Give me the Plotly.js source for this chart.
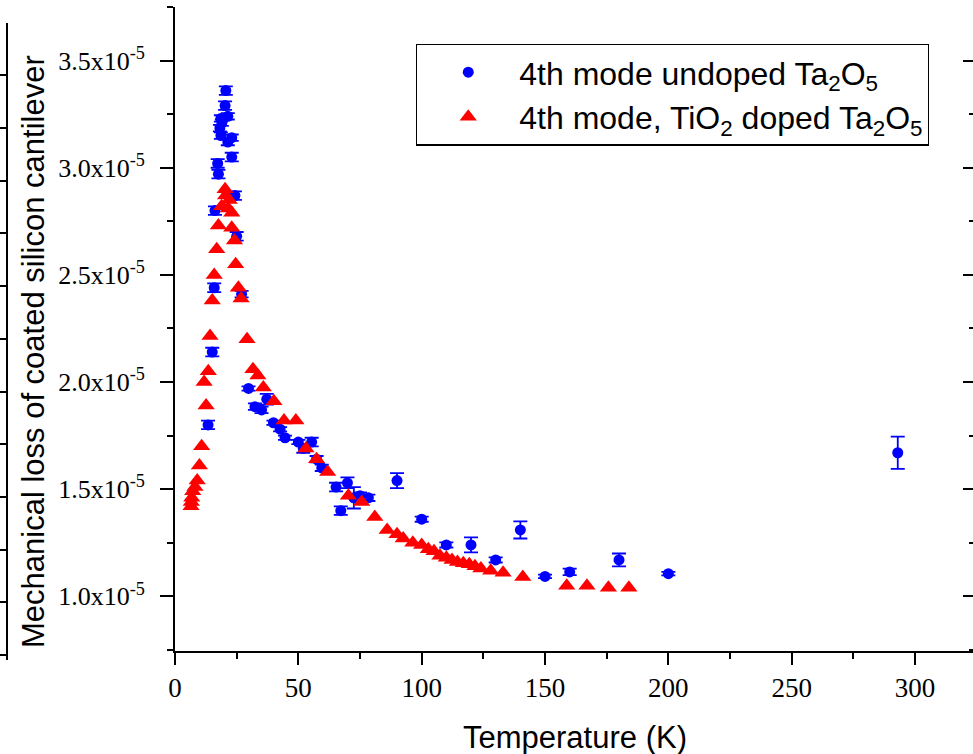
<!DOCTYPE html>
<html>
<head>
<meta charset="utf-8">
<script src="https://cdn.plot.ly/plotly-3.0.1.min.js"></script>
<style>html,body{margin:0;padding:0;background:#fff;}#chart{width:973px;height:754px;}</style>
</head>
<body>
<div id="chart"></div>
<script>
// Values of mechanical loss are in units of 1e-5
const undopedName = "4th mode undoped Ta<sub>2</sub>O<sub>5</sub>";
const undopedT = [13.4, 15.1, 15.9, 16.2, 17.3, 17.6, 18.2, 18.6, 18.6, 19.0, 20.3, 20.6, 21.4, 21.4, 23.0, 23.0, 24.3, 25.0, 27.0,
  29.8, 32.4, 35.1, 37.2, 39.9, 42.6, 44.6, 50.0, 52.0, 55.4, 57.4, 59.5, 65.3, 67.2, 69.9, 72.5, 75.0, 78.4,
  90, 100, 110, 120, 130, 140, 150, 160, 180, 200, 293];
const undopedLoss = [1.80, 2.14, 2.44, 2.80, 3.02, 2.97, 3.185, 3.15, 3.23, 3.21, 3.29, 3.36, 3.24, 3.12, 3.14, 3.05, 2.87, 2.68, 2.41,
  1.97, 1.885, 1.87, 1.92, 1.81, 1.78, 1.74, 1.72, 1.69, 1.72, 1.64, 1.60, 1.51, 1.40, 1.53, 1.46, 1.47, 1.46,
  1.54, 1.36, 1.24, 1.24, 1.17, 1.31, 1.093, 1.114, 1.17, 1.106, 1.67];
const undopedErr = [0.02, 0.02, 0.02, 0.02, 0.02, 0.02, 0.015, 0.015, 0.015, 0.015, 0.02, 0.02, 0.015, 0.015, 0.015, 0.02, 0.02, 0.02, 0.015,
  0.01, 0.015, 0.015, 0.025, 0.01, 0.01, 0.01, 0.01, 0.02, 0.02, 0.015, 0.015, 0.02, 0.02, 0.025, 0.05, 0.015, 0.015,
  0.035, 0.012, 0.012, 0.035, 0.012, 0.04, 0.008, 0.015, 0.03, 0.008, 0.075];

const dopedName = "4th mode, TiO<sub>2</sub> doped Ta<sub>2</sub>O<sub>5</sub>";
const dopedT = [6.5, 6.6, 6.8, 7.2, 8.1, 9.0, 9.9, 10.8, 11.8, 12.6, 13.5, 14.2, 15.1, 15.9, 16.9, 17.6, 18.9, 20.3, 20.5, 21.6, 22.0, 23.0, 23.0,
  24.1, 24.6, 25.7, 26.8, 29.2, 31.6, 33.6, 35.8, 40.1, 44.2, 49.0, 53.1, 57.4, 61.9, 70.3, 75.7, 81.0, 86.0,
  90.0, 92.5, 96.4, 100.0, 102.7, 105.0, 107.4, 110.0, 112.3, 114.5, 116.9, 119.3, 121.6, 124.0, 128.0, 133.0, 141.0,
  158.8, 167.0, 175.7, 184.0];
const dopedLoss = [1.42, 1.44, 1.46, 1.49, 1.51, 1.54, 1.61, 1.70, 2.00, 1.89, 2.05, 2.215, 2.38, 2.50, 2.62, 2.73, 2.82, 2.90, 2.87, 2.81, 2.85, 2.79, 2.72,
  2.66, 2.55, 2.44, 2.39, 2.20, 2.06, 2.03, 1.975, 1.91, 1.82, 1.82, 1.69, 1.64, 1.58, 1.47, 1.44, 1.37, 1.31,
  1.29, 1.27, 1.25, 1.24, 1.22, 1.21, 1.19, 1.18, 1.17, 1.16, 1.155, 1.15, 1.14, 1.13, 1.12, 1.11, 1.09,
  1.05, 1.05, 1.04, 1.04];

const yTickVals = [1.0, 1.5, 2.0, 2.5, 3.0, 3.5];
const yTickText = ["1.0x10<sup>-5</sup>", "1.5x10<sup>-5</sup>", "2.0x10<sup>-5</sup>", "2.5x10<sup>-5</sup>", "3.0x10<sup>-5</sup>", "3.5x10<sup>-5</sup>"];

const xTitle = "Temperature (K)";
const yTitle = "Mechanical loss of coated silicon cantilever";

const BLUE = "#0000ff", RED = "#ff0000";
const yRange = [0.745, 3.75];

const traces = [
  {
    type: "scatter", mode: "markers", name: undopedName,
    x: undopedT, y: undopedLoss,
    marker: {symbol: "circle", size: 11, color: BLUE},
    error_y: {type: "data", array: undopedErr, visible: true, color: BLUE, thickness: 1.8, width: 7}
  },
  {
    type: "scatter", mode: "markers", name: dopedName,
    x: dopedT, y: dopedLoss,
    marker: {symbol: "triangle-up", size: 15, color: RED}
  },
  {type: "scatter", mode: "markers", x: [], y: [], yaxis: "y2", showlegend: false, hoverinfo: "skip"},
  {type: "scatter", mode: "markers", x: [], y: [], yaxis: "y3", showlegend: false, hoverinfo: "skip"}
];

const xTickFont = {family: "Liberation Serif, Times New Roman, serif", size: 27, color: "#000"};
const yTickFont = {family: "Liberation Serif, Times New Roman, serif", size: 26, color: "#000"};
const titleFont = {family: "Liberation Sans, Arial, sans-serif", size: 31, color: "#000"};

const layout = {
  width: 973, height: 754,
  margin: {l: 0, r: 0, t: 7, b: 94, pad: 0},
  paper_bgcolor: "#fff", plot_bgcolor: "rgba(0,0,0,0)",
  showlegend: true,
  legend: {
    x: 0.4275, y: 0.944, xanchor: "left", yanchor: "top",
    bordercolor: "#000", borderwidth: 1.3, bgcolor: "#fff",
    font: {family: "Liberation Sans, Arial, sans-serif", size: 32, color: "#000"},
    itemwidth: 92, tracegroupgap: 0
  },
  xaxis: {
    domain: [175 / 973, 1], anchor: "y",
    range: [0, 323.5], tickmode: "linear", tick0: 0, dtick: 50,
    ticks: "outside", ticklen: 12, tickwidth: 2, tickcolor: "#000",
    minor: {tickmode: "linear", tick0: 0, dtick: 25, ticks: "outside", ticklen: 6, tickwidth: 2, tickcolor: "#000", showgrid: false},
    showline: true, linewidth: 2, linecolor: "#000",
    showgrid: false, zeroline: false,
    tickfont: xTickFont
  },
  yaxis: {
    domain: [9 / 653, 1], anchor: "x",
    range: yRange, tickmode: "array", tickvals: yTickVals, ticktext: yTickText,
    ticks: "outside", ticklen: 13, tickwidth: 2, tickcolor: "#000",
    minor: {tickmode: "linear", tick0: 0, dtick: 0.25, ticks: "outside", ticklen: 6, tickwidth: 2, tickcolor: "#000", showgrid: false},
    showline: true, linewidth: 2, linecolor: "#000",
    showgrid: false, zeroline: false,
    tickfont: yTickFont, ticklabelstandoff: 10
  },
  yaxis2: {
    overlaying: "y", side: "right", anchor: "x",
    range: yRange, tickmode: "array", tickvals: yTickVals,
    ticks: "inside", ticklen: 10, tickwidth: 2, tickcolor: "#000",
    minor: {tickmode: "linear", tick0: 0, dtick: 0.25, ticks: "inside", ticklen: 4, tickwidth: 2, tickcolor: "#000", showgrid: false},
    showticklabels: false, showline: false, showgrid: false, zeroline: false
  },
  yaxis3: {
    domain: [0, 637 / 653], anchor: "free", position: 7 / 973, side: "left",
    range: [0, 637 / 52.7], tickmode: "linear", tick0: 5 / 52.7, dtick: 1,
    ticks: "outside", ticklen: 7, tickwidth: 2, tickcolor: "#000",
    showticklabels: false, showline: true, linewidth: 2, linecolor: "#000",
    showgrid: false, zeroline: false
  },
  annotations: [
    {text: xTitle, xref: "paper", yref: "paper", x: 575 / 973, y: -77 / 653, xanchor: "center", yanchor: "middle",
     showarrow: false, font: titleFont},
    {text: yTitle, xref: "paper", yref: "paper", x: 33 / 973, y: (660 - 352) / 653, xanchor: "center", yanchor: "middle",
     textangle: -90, showarrow: false, font: titleFont}
  ]
};

Plotly.newPlot("chart", traces, layout, {displayModeBar: false, staticPlot: true});
</script>
</body>
</html>
